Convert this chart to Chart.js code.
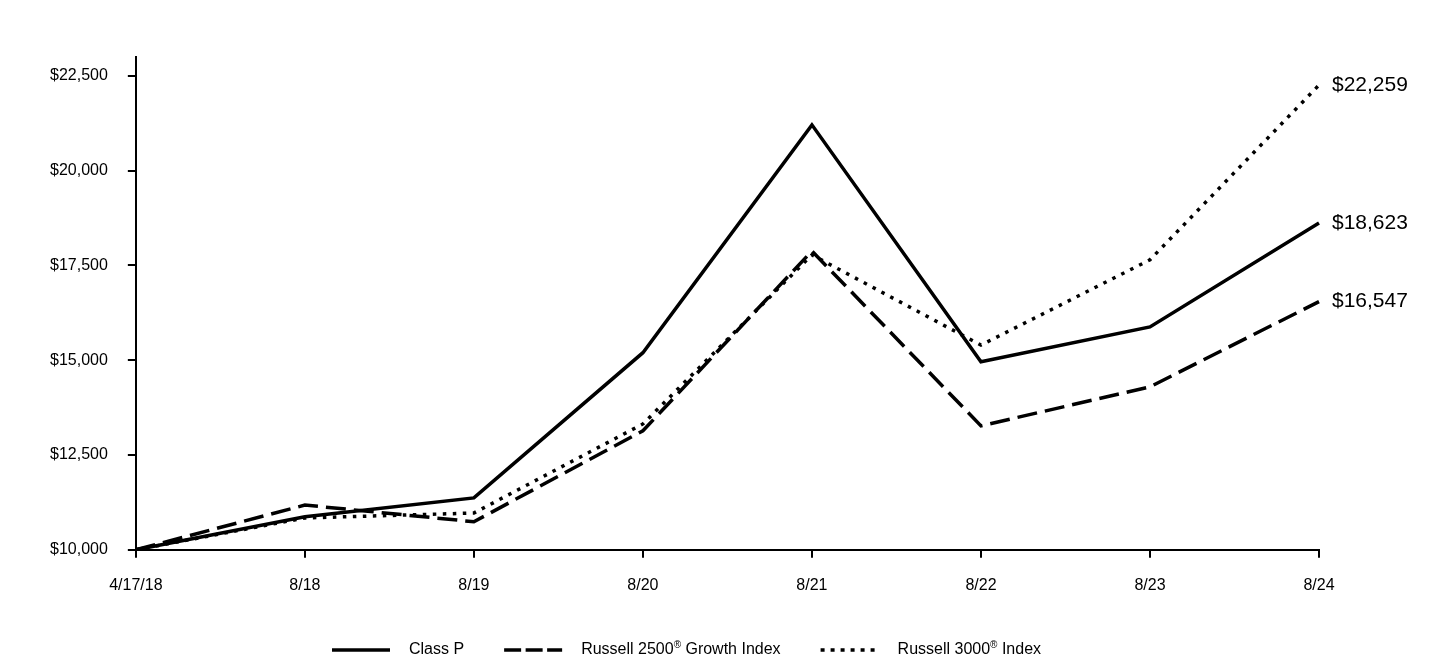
<!DOCTYPE html>
<html>
<head>
<meta charset="utf-8">
<script src="https://cdn.jsdelivr.net/npm/chart.js@4.4.1/dist/chart.umd.min.js"></script>
<style>
  html, body { margin: 0; padding: 0; background: #fff; }
  #wrap { width: 1440px; height: 660px; }
</style>
</head>
<body>
<div id="wrap"><canvas id="growth"></canvas></div>
<script>
// values
var periods = ["4/17/18", "8/18", "8/19", "8/20", "8/21", "8/22", "8/23", "8/24"];
var classP = [10000, 10870, 11370, 15200, 21210, 14960, 15880, 18623];
var r2500g = [10000, 11180, 10740, 13140, 17880, 13270, 14300, 16547];
var r3000 = [10000, 10840, 10970, 13320, 17780, 15400, 17650, 22259];
var yTicks = [10000, 12500, 15000, 17500, 20000, 22500];

function money(v) {
  return "$" + Math.round(v).toLocaleString("en-US");
}

var FONT = "'Liberation Sans', Arial, Helvetica, sans-serif";
// dash used for the little legend samples (shorter than on the lines)
var legendDash = [[], [17, 4.5], [4, 6]];

// end-of-line value labels + legend at the bottom
var extras = {
  id: "extras",
  afterDraw: function (chart) {
    var ctx = chart.ctx;
    var ys = chart.scales.y;
    var area = chart.chartArea;
    ctx.save();
    ctx.fillStyle = "#000";
    ctx.font = "21px " + FONT;
    ctx.textBaseline = "middle";
    ctx.textAlign = "left";
    chart.data.datasets.forEach(function (ds) {
      var last = ds.data[ds.data.length - 1];
      ctx.fillText(money(last), area.right + 13, ys.getPixelForValue(last));
    });

    // legend
    var x = 332;
    var y = 650;
    chart.data.datasets.forEach(function (ds, i) {
      ctx.beginPath();
      ctx.setLineDash(legendDash[i]);
      ctx.lineWidth = ds.borderWidth;
      ctx.strokeStyle = "#000";
      ctx.moveTo(x, y);
      ctx.lineTo(x + 58, y);
      ctx.stroke();
      ctx.setLineDash([]);
      x += 77;
      var parts = ds.label.split("®");
      ctx.font = "16px " + FONT;
      ctx.fillText(parts[0], x, y);
      x += ctx.measureText(parts[0]).width;
      if (parts.length > 1) {
        ctx.font = "10px " + FONT;
        ctx.fillText("®", x, y - 5);
        x += ctx.measureText("®").width;
        ctx.font = "16px " + FONT;
        ctx.fillText(parts[1], x, y);
        x += ctx.measureText(parts[1]).width;
      }
      x += 40;
    });
    ctx.restore();
  }
};

new Chart(document.getElementById("growth"), {
  type: "line",
  data: {
    labels: periods,
    datasets: [
      {
        label: "Class P",
        data: classP,
        borderColor: "#000",
        borderWidth: 3.5,
        pointRadius: 0,
        tension: 0
      }, {
        label: "Russell 2500® Growth Index",
        data: r2500g,
        borderColor: "#000",
        borderWidth: 3.5,
        borderDash: [20, 8],
        pointRadius: 0,
        tension: 0
      }, {
        label: "Russell 3000® Index",
        data: r3000,
        borderColor: "#000",
        borderWidth: 3.5,
        borderDash: [3.5, 6.5],
        pointRadius: 0,
        tension: 0
      }
    ]
  },
  options: {
    responsive: true,
    maintainAspectRatio: false,
    animation: false,
    layout: { padding: { left: 30, right: 121, top: 57, bottom: 47 } },
    plugins: {
      legend: { display: false },
      tooltip: { enabled: false }
    },
    scales: {
      x: {
        offset: false,
        grid: { drawOnChartArea: false, drawTicks: true, tickLength: 8, color: "#000", lineWidth: 2 },
        border: { display: true, color: "#000", width: 2 },
        ticks: { color: "#000", font: { family: FONT, size: 16 }, padding: 18, maxRotation: 0, autoSkip: false }
      },
      y: {
        min: 10000,
        max: 23000,
        afterBuildTicks: function (scale) {
          scale.ticks = yTicks.map(function (v) { return { value: v }; });
        },
        grid: { drawOnChartArea: false, drawTicks: true, tickLength: 8, color: "#000", lineWidth: 2 },
        border: { display: true, color: "#000", width: 2 },
        ticks: {
          color: "#000",
          font: { family: FONT, size: 16 },
          padding: 20,
          callback: function (v) { return money(v); }
        }
      }
    }
  },
  plugins: [extras]
});
</script>
</body>
</html>
